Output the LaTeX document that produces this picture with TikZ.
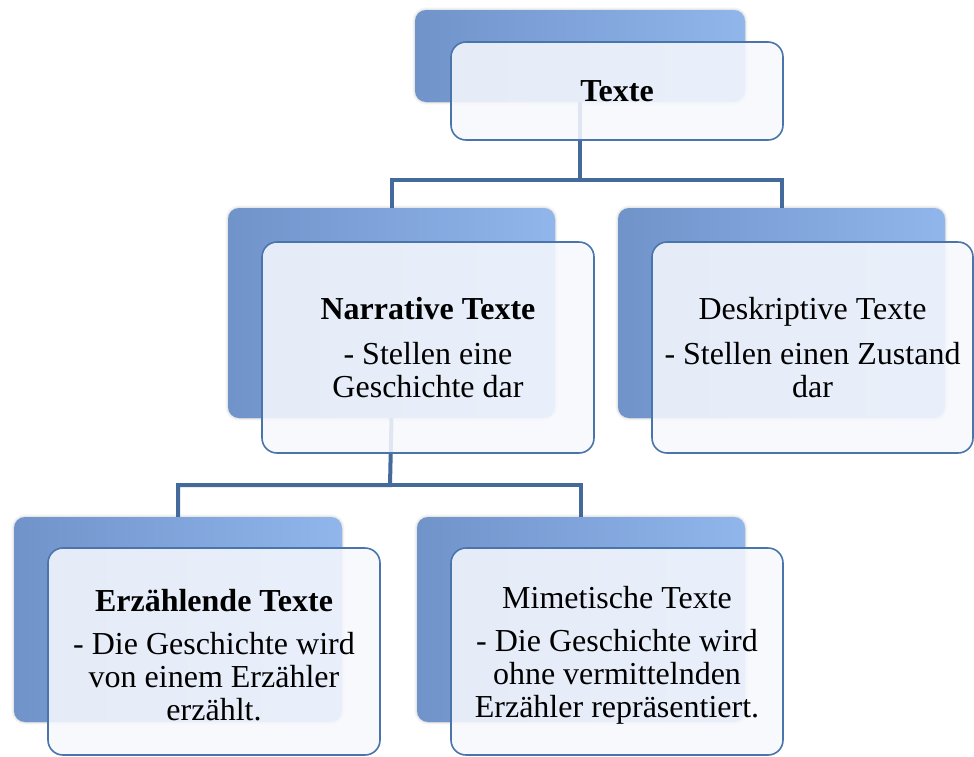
\documentclass[tikz,border=0pt]{standalone}
\usepackage{fontspec}
\setmainfont{Liberation Serif}
\usetikzlibrary{shadows.blur}
\definecolor{backL}{HTML}{7093CA}
\definecolor{backR}{HTML}{90B6EC}
\definecolor{frontfill}{HTML}{F6F8FD}
\definecolor{frontline}{HTML}{4A75AC}
\definecolor{connc}{HTML}{44699B}
\tikzset{
  x=1pt, y=-1pt,
  backbox/.style={rectangle, rounded corners=11pt, draw=none, left color=backL, right color=backR,
    inner sep=0pt, blur shadow={shadow xshift=0pt, shadow yshift=0pt, shadow blur steps=5, shadow opacity=25, shadow blur radius=3pt}},
  frontbox/.style={rectangle, rounded corners=15pt, draw=frontline, line width=1.6pt, fill=frontfill, fill opacity=0.88, text opacity=1,
    inner sep=0pt, align=center, font=\fontsize{32}{33}\selectfont},
  boxtext/.style={inner sep=0pt, align=center, font=\fontsize{32}{33}\selectfont},
  conn/.style={draw=connc, line width=4pt},
}
\begin{document}
\begin{tikzpicture}
\useasboundingbox (0,0) rectangle (974,756);
% back boxes
\node[backbox, minimum width=330pt, minimum height=92pt] (tb) at (580,56) {};
\node[backbox, minimum width=327pt, minimum height=210pt] (nb) at (391.5,313) {};
\node[backbox, minimum width=327pt, minimum height=210pt] (db) at (781.5,313) {};
\node[backbox, minimum width=328pt, minimum height=205pt] (eb) at (178,619.5) {};
\node[backbox, minimum width=328pt, minimum height=205pt] (mb) at (581,619.5) {};
% connectors
\coordinate (bus1) at (580,180);
\coordinate (bus2) at (390,485);
\draw[conn] (tb.south) -- (bus1) -| (nb.north);
\draw[conn] (bus1) -| (db.north);
\draw[conn] (nb.south) -- (bus2) -| (eb.north);
\draw[conn] (bus2) -| (mb.north);
% front boxes
\node[frontbox, minimum width=332pt, minimum height=98pt] (tf) at (617,91) {\textbf{Texte}};
\node[frontbox, minimum width=332pt, minimum height=211pt] (nf) at (428,347.5)
  {\textbf{Narrative Texte}\\[12pt]- Stellen eine\\Geschichte dar};
\node[frontbox, minimum width=321pt, minimum height=211pt] (df) at (812.5,347.5)
  {Deskriptive Texte\\[12pt]- Stellen einen Zustand\\dar};
\node[frontbox, minimum width=332pt, minimum height=207pt] (ef) at (214,651.5) {};
\node[boxtext] (eft) at ([yshift=-3.5pt]ef.center)
  {\textbf{Erzählende Texte}\\[10pt]- Die Geschichte wird\\von einem Erzähler\\erzählt.};
\node[frontbox, minimum width=332pt, minimum height=207pt] (mf) at (617,651.5) {};
\node[boxtext] (mft) at ([yshift=-3.5pt]mf.center)
  {Mimetische Texte\\[10pt]- Die Geschichte wird\\ohne vermittelnden\\Erzähler repräsentiert.};
\end{tikzpicture}
\end{document}
